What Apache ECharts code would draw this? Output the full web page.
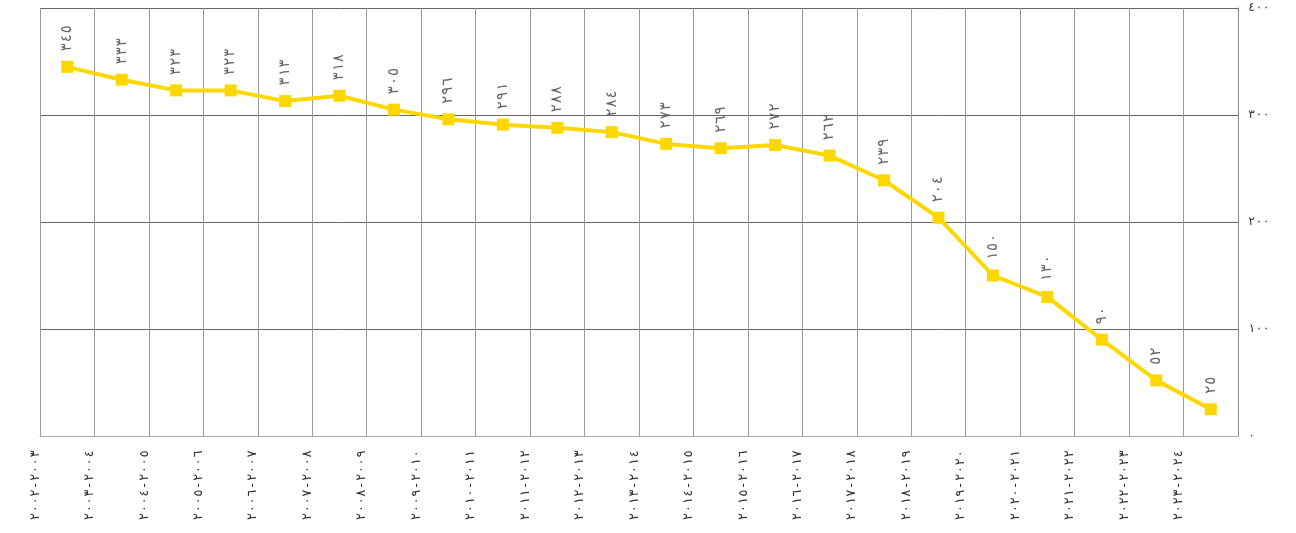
<!DOCTYPE html>
<html>
<head>
<meta charset="utf-8">
<script src="https://cdn.jsdelivr.net/npm/echarts@6/dist/echarts.min.js"></script>
<style>html,body{margin:0;padding:0;background:#fff}#c{width:1296px;height:533px}</style>
</head>
<body>
<div id="c"></div>
<script>
var categories = ['٢٠٠٢-٢٠٠٣','٢٠٠٣-٢٠٠٤','٢٠٠٤-٢٠٠٥','٢٠٠٥-٢٠٠٦','٢٠٠٦-٢٠٠٧','٢٠٠٧-٢٠٠٨','٢٠٠٨-٢٠٠٩','٢٠٠٩-٢٠١٠','٢٠١٠-٢٠١١','٢٠١١-٢٠١٢','٢٠١٢-٢٠١٣','٢٠١٣-٢٠١٤','٢٠١٤-٢٠١٥','٢٠١٥-٢٠١٦','٢٠١٦-٢٠١٧','٢٠١٧-٢٠١٨','٢٠١٨-٢٠١٩','٢٠١٩-٢٠٢٠','٢٠٢٠-٢٠٢١','٢٠٢١-٢٠٢٢','٢٠٢٢-٢٠٢٣','٢٠٢٣-٢٠٢٤'];
var values = [345,333,323,323,313,318,305,296,291,288,284,273,269,272,262,239,204,150,130,90,52,25];
var yTicks = [0,100,200,300,400];

var AR = '٠١٢٣٤٥٦٧٨٩';
function toAr(n){ return String(n).replace(/[0-9]/g, function(d){ return AR[+d]; }); }
function ltr(s){ return s.replace('-', '\u200E-\u200E'); }

var FONT = '"DejaVu Sans Mono", monospace';
var chart = echarts.init(document.getElementById('c'));
chart.setOption({
  animation: false,
  textStyle: { fontFamily: FONT },
  grid: { left: 40, right: 58, top: 8, bottom: 97, containLabel: false },
  xAxis: {
    type: 'category',
    data: categories,
    boundaryGap: true,
    axisLine: { show: true, lineStyle: { color: '#aaa', width: 1 } },
    axisTick: { show: false },
    splitLine: { show: true, lineStyle: { color: '#999', width: 1 } },
    axisLabel: {
      interval: 0, rotate: 90, color: '#333', fontSize: 13, margin: 14,
      fontFamily: FONT,
      verticalAlign: 'bottom', lineHeight: 64,
      formatter: function(v){ return ltr(v); }
    }
  },
  yAxis: {
    type: 'value',
    position: 'right',
    min: yTicks[0], max: yTicks[yTicks.length - 1], interval: 100,
    axisLine: { show: true, lineStyle: { color: '#888' } },
    axisTick: { show: false },
    splitLine: { show: true, lineStyle: { color: '#666', width: 1 } },
    axisLabel: { color: '#333', fontSize: 12, margin: 10, fontFamily: FONT, formatter: function(v){ return toAr(v); } }
  },
  series: [{
    type: 'line',
    data: values,
    symbol: 'rect',
    symbolSize: 12,
    lineStyle: { color: '#FFD700', width: 4 },
    itemStyle: { color: '#FFD700' },
    label: {
      show: true, position: 'top', rotate: 90, align: 'left', verticalAlign: 'middle',
      distance: 9, color: '#666', fontSize: 15, fontFamily: FONT,
      formatter: function(p){ return toAr(p.value); }
    }
  }]
});
</script>
</body>
</html>
